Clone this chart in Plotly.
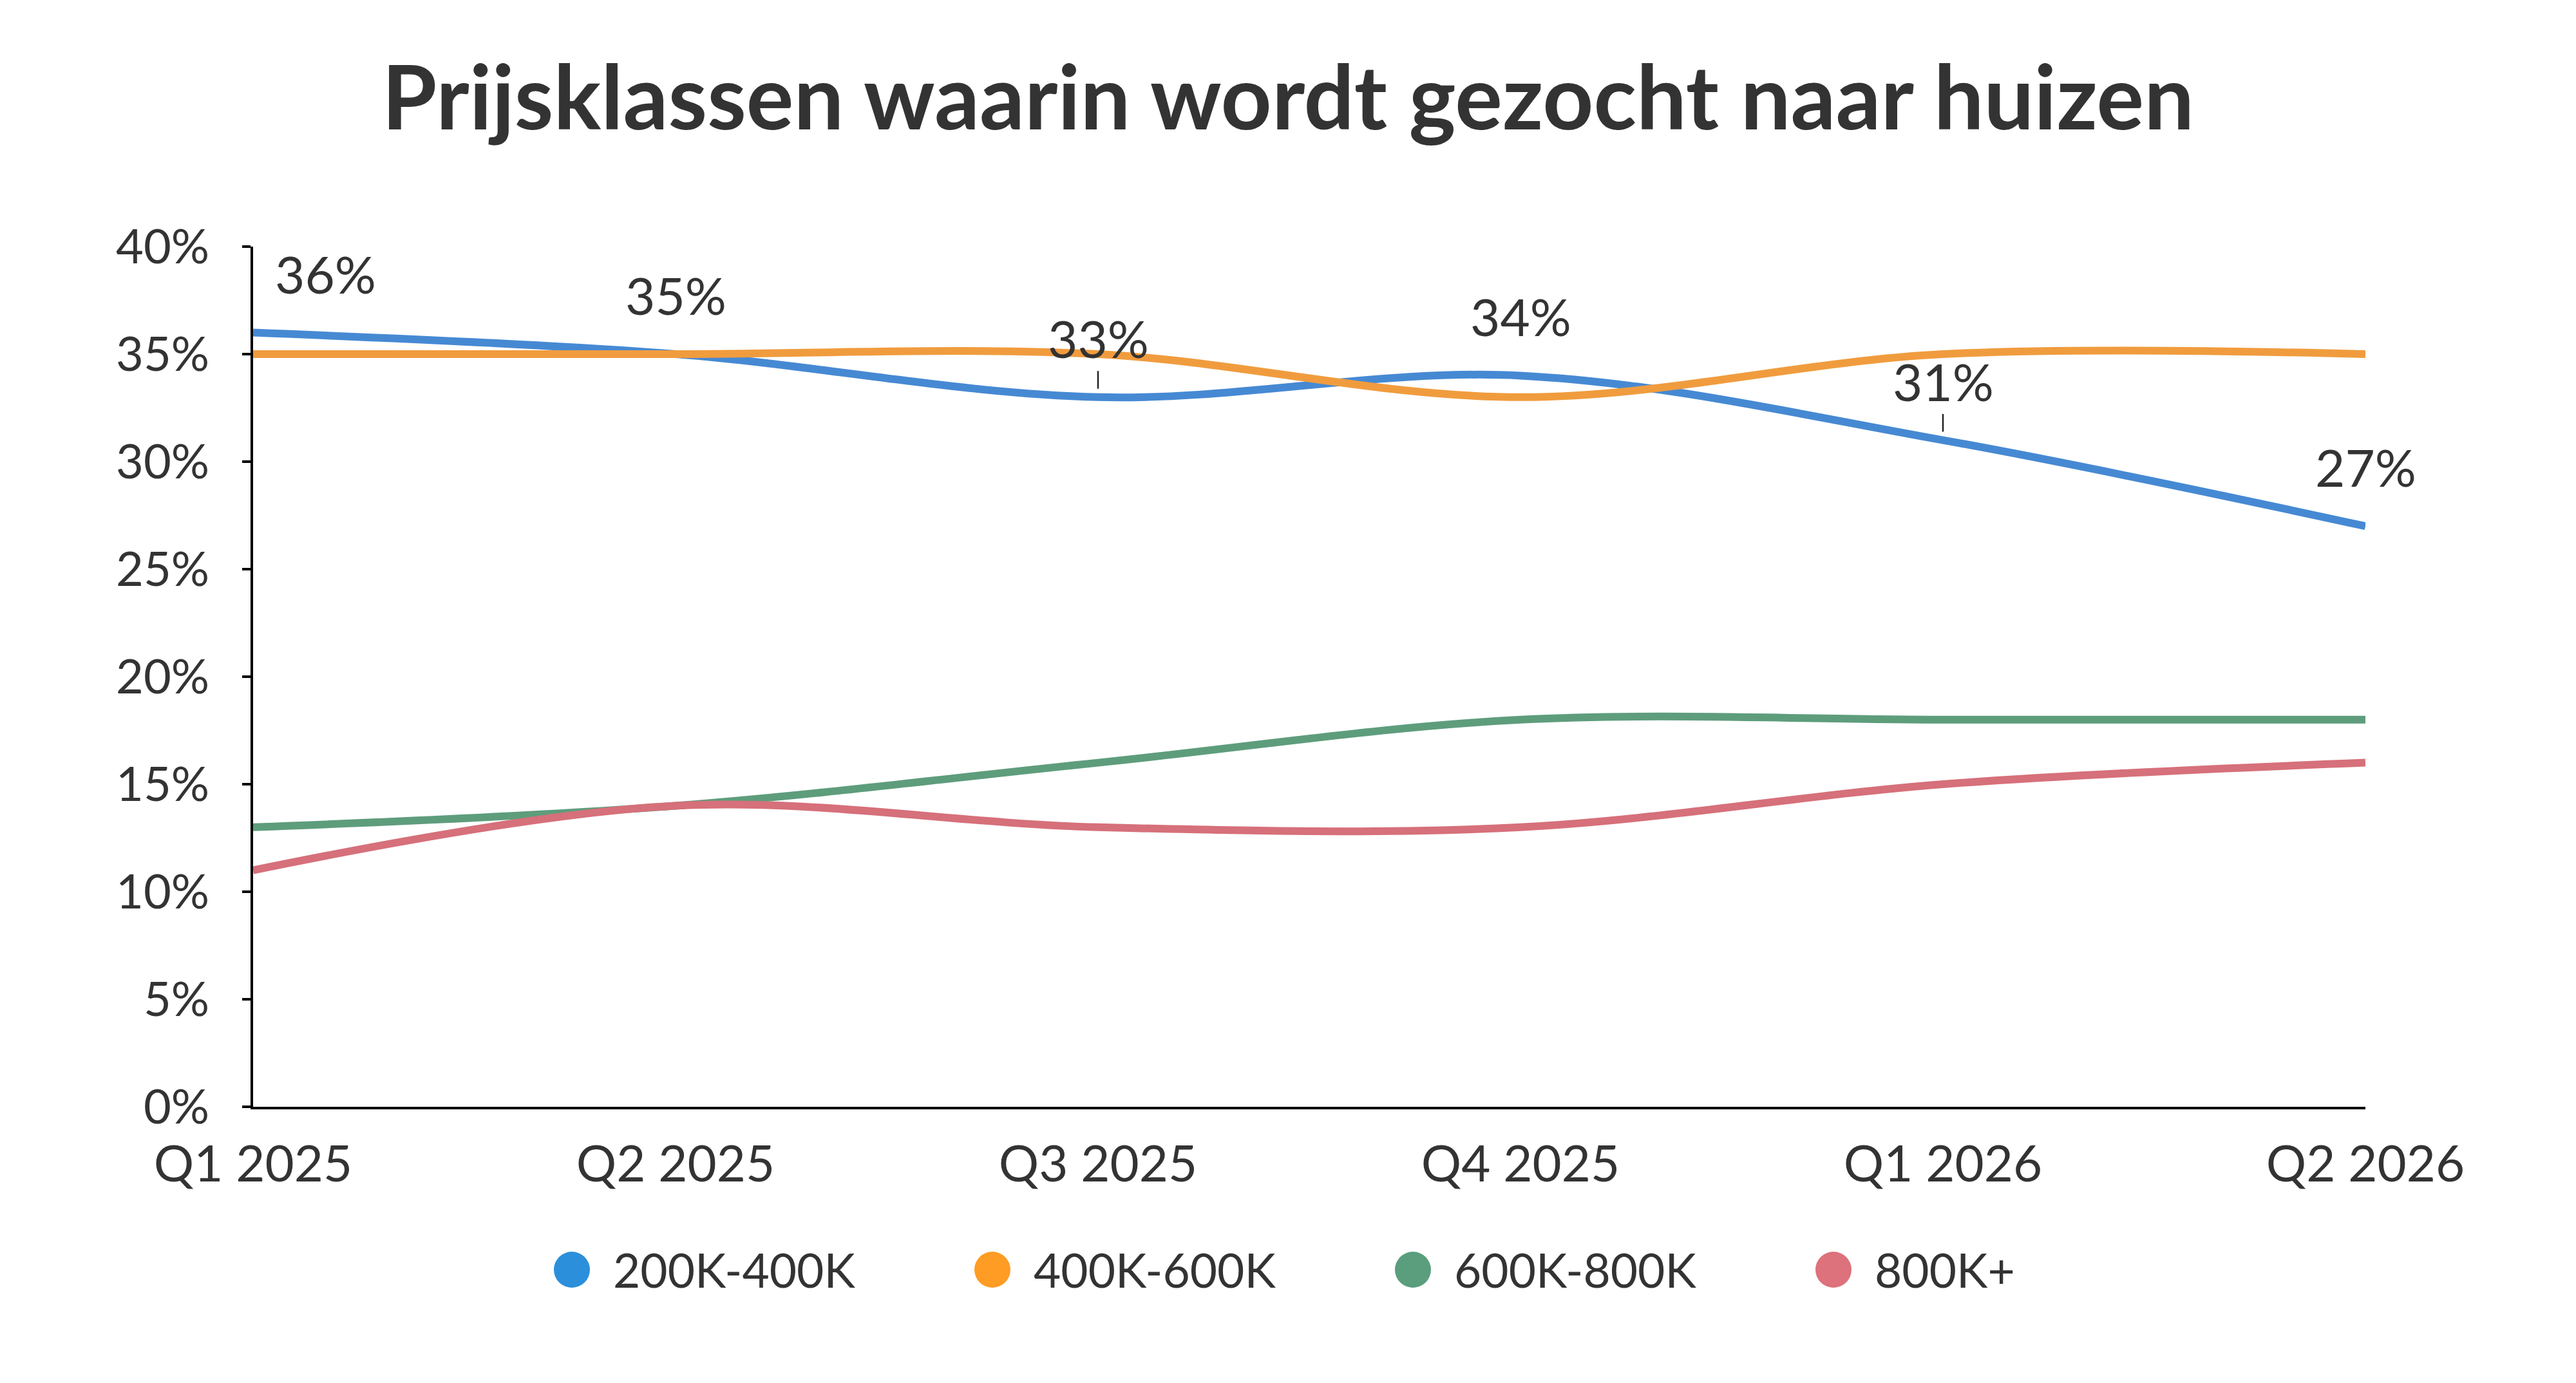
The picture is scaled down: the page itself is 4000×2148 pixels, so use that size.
import plotly.graph_objects as go

# ---- data ----
quarters = ["Q1 2025", "Q2 2025", "Q3 2025", "Q4 2025", "Q1 2026", "Q2 2026"]
series_names = ["200K-400K", "400K-600K", "600K-800K", "800K+"]
v_200_400 = [36, 35, 33, 34, 31, 27]
v_400_600 = [35, 35, 35, 33, 35, 35]
v_600_800 = [13, 14, 16, 18, 18, 18]
v_800_plus = [11, 14, 13, 13, 15, 16]
y_ticks = [0, 5, 10, 15, 20, 25, 30, 35, 40]
y_tick_labels = ["0%", "5%", "10%", "15%", "20%", "25%", "30%", "35%", "40%"]

line_colors = ["#4689D3", "#F09C3E", "#5E9D7C", "#D6707A"]
legend_colors = ["#2B8FDB", "#FF9C24", "#5A9E7D", "#DD717C"]

W, H = 4000, 2148
L, R, T, B = 393, 327, 383, 429
PW, PH = W - L - R, H - T - B
FONT = "Lato"
TXT = "#333333"

x_idx = list(range(len(quarters)))
all_vals = [v_200_400, v_400_600, v_600_800, v_800_plus]

fig = go.Figure()
for name, vals, col in zip(series_names, all_vals, line_colors):
    fig.add_trace(go.Scatter(
        x=x_idx, y=vals, mode="lines", name=name,
        line=dict(color=col, width=12, shape="spline", smoothing=1.0),
        showlegend=False, hoverinfo="skip"))

# data labels for the 200K-400K series
leader = [False, False, True, False, True, False]
for i, v in enumerate(v_200_400):
    xs = 112 if i == 0 else 0
    if leader[i]:
        fig.add_annotation(x=i, y=v, text=f"{v}%", showarrow=True,
                           ax=0, ay=-92, arrowhead=0, arrowwidth=2.5,
                           arrowcolor="#222222", standoff=13, startstandoff=2,
                           font=dict(family=FONT, size=80, color=TXT))
    else:
        fig.add_annotation(x=i, y=v, text=f"{v}%", showarrow=False,
                           xshift=xs, yshift=92,
                           font=dict(family=FONT, size=80, color=TXT))

# custom legend: circles + labels (positions in pixels -> paper)
def px2paper(px, py):
    return (px - L) / PW, (H - B - py) / PH

leg_cx = [888, 1541, 2194, 2847]
leg_cy = 1972
for name, col, cx in zip(series_names, legend_colors, leg_cx):
    xp, yp = px2paper(cx, leg_cy)
    fig.add_shape(type="circle", xref="paper", yref="paper",
                  xsizemode="pixel", ysizemode="pixel",
                  xanchor=xp, yanchor=yp, x0=-28, x1=28, y0=-28, y1=28,
                  fillcolor=col, line=dict(width=0))
    tx, ty = px2paper(cx + 62, leg_cy)
    fig.add_annotation(xref="paper", yref="paper", x=tx, y=ty, text=name,
                       showarrow=False, xanchor="left", yanchor="middle",
                       font=dict(family=FONT, size=73, color=TXT))

fig.update_layout(
    width=W, height=H,
    margin=dict(l=L, r=R, t=T, b=B, autoexpand=False),
    paper_bgcolor="white", plot_bgcolor="white",
    title=dict(text="<b>Prijsklassen waarin wordt gezocht naar huizen</b>",
               x=0.5, xanchor="center", y=1 - 153 / H, yanchor="middle",
               font=dict(family=FONT, size=138, color=TXT)),
    showlegend=False,
    xaxis=dict(range=[0, len(quarters) - 1], tickvals=x_idx, ticktext=quarters,
               showgrid=False, zeroline=False, showline=True,
               linecolor="black", linewidth=4, ticks="",
               ticklabelstandoff=18,
               tickfont=dict(family=FONT, size=78, color=TXT)),
    yaxis=dict(range=[0, 40], tickvals=y_ticks, ticktext=y_tick_labels,
               showgrid=False, zeroline=False, showline=True,
               linecolor="black", linewidth=4, ticks="outside",
               ticklen=13, tickwidth=4, tickcolor="black",
               ticklabelstandoff=36,
               tickfont=dict(family=FONT, size=74, color=TXT)),
)

fig.write_html("out.html")
